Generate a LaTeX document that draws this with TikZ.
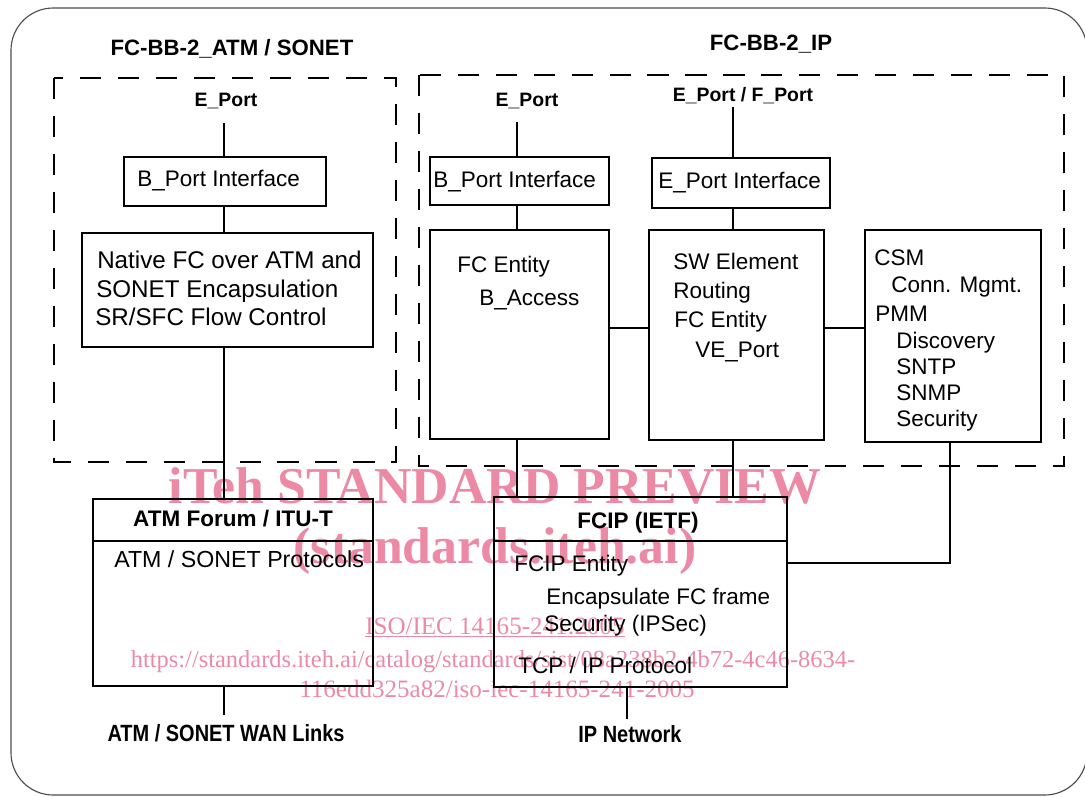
\documentclass[tikz,border=0pt]{standalone}
\usepackage{fontspec}
\setmainfont{Liberation Sans}
\newfontfamily\narrowfont[FakeStretch=0.85]{Liberation Sans}
\newfontfamily\wmfont{Liberation Serif}
\usetikzlibrary{calc}
\definecolor{wmpink}{RGB}{236,138,166}

\begin{document}
\begin{tikzpicture}[x=0.025cm,y=-0.025cm]
    \tikzstyle{edge}=[line width=1.3pt,draw=black]
    \tikzstyle{group}=[line width=1.5pt,draw=black,dash pattern=on 15pt off 12pt]
    \tikzstyle{frame}=[line width=0.8pt,draw=black!70,rounded corners=30pt]
    \tikzstyle{box}=[rectangle,draw=black,line width=1.3pt,inner sep=0pt]
    \tikzstyle{txt}=[inner sep=0pt,anchor=base west,font=\fontsize{16}{19}\selectfont]
    \tikzstyle{bigtxt}=[txt,font=\fontsize{17.2}{20}\selectfont]
    \tikzstyle{head}=[inner sep=0pt,anchor=base,font=\fontsize{16}{19}\selectfont\bfseries]
    \tikzstyle{title}=[head,font=\fontsize{15.8}{18}\selectfont\bfseries]
    \tikzstyle{port}=[head,font=\fontsize{13.8}{16}\selectfont\bfseries]
    \tikzstyle{link}=[head,font=\fontsize{16.7}{19}\selectfont\narrowfont\bfseries]
    \tikzstyle{wmark}=[inner sep=0pt,anchor=base,text=wmpink,font=\wmfont\fontsize{17.8}{20}\selectfont]
    \tikzstyle{wmarkurl}=[wmark,font=\wmfont\fontsize{17.4}{20}\selectfont]
    \tikzstyle{wmarkbig}=[wmark,font=\wmfont\fontsize{36.8}{40}\selectfont\bfseries]

    \useasboundingbox (0,0) rectangle (1085,796);
    \draw[frame] (11,8) rectangle (1087,795);

    {
      \node[wmarkbig] (wm1) at (495,503) {iTeh STANDARD PREVIEW};
      \node[wmarkbig] (wm2) at (495,563) {(standards.iteh.ai)};
      \node[wmark] (wm3) at (495,634) {\underline{ISO/IEC 14165-241:2005}};
      \node[wmarkurl] (wm4) at (493,667) {https://standards.iteh.ai/catalog/standards/sist/08a238b2-4b72-4c46-8634-};
      \node[wmark] (wm5) at (497,697) {116edd325a82/iso-iec-14165-241-2005};
    }

    \draw[group] (54,78) rectangle (396,462);
    \draw[group] (419,75) rectangle (1064,466);

    {
      \node[box,minimum width=5.05cm,minimum height=1.225cm] (bportA) at (225,181.5) {};
      \node[box,minimum width=7.275cm,minimum height=2.85cm] (nativeA) at (227.5,290) {};
      \node[box,minimum width=7.0cm,minimum height=1.05cm] (atmhead) at (233,520) {};
      \node[box,minimum width=7.0cm,minimum height=3.625cm] (atmbody) at (233,613.5) {};

      \node[box,minimum width=4.475cm,minimum height=1.2cm] (bportB) at (519.5,181) {};
      \node[box,minimum width=4.475cm,minimum height=5.225cm] (fcent) at (519.5,334.5) {};
      \node[box,minimum width=4.45cm,minimum height=1.25cm] (eportif) at (741,183) {};
      \node[box,minimum width=4.375cm,minimum height=5.25cm] (swel) at (736.5,335) {};
      \node[box,minimum width=4.4cm,minimum height=5.3cm] (csm) at (953,336) {};
      \node[box,minimum width=7.325cm,minimum height=1.1cm] (fciphead) at (640.5,519) {};
      \node[box,minimum width=7.325cm,minimum height=3.65cm] (fcipbody) at (640.5,614) {};
    }

    {
      \node[title] (ttlA) at (232,55) {FC-BB-2\_ATM / SONET};
      \node[title] (ttlB) at (771,50) {FC-BB-2\_IP};

      \node[port] (eportA) at (226,106) {E\_Port};
      \node[port] (eportB) at (527,106) {E\_Port};
      \node[port] (eportC) at (743,101) {E\_Port / F\_Port};

      \node[txt] (tbportA) at (137,186) {B\_Port Interface};
      \node[txt] (tbportB) at (433,187) {B\_Port Interface};
      \node[txt] (teportif) at (658,188) {E\_Port Interface};

      \node[bigtxt] (tnat1) at (97,268) {Native FC over ATM and};
      \node[bigtxt] (tnat2) at (96,297) {SONET Encapsulation};
      \node[bigtxt] (tnat3) at (95,325) {SR/SFC Flow Control};

      \node[txt] (tfc1) at (457,272) {FC Entity};
      \node[txt] (tfc2) at (479,305) {B\_Access};

      \node[txt] (tsw1) at (673,269) {SW Element};
      \node[txt] (tsw2) at (673,298) {Routing};
      \node[txt] (tsw3) at (674,327) {FC Entity};
      \node[txt] (tsw4) at (695,357) {VE\_Port};

      \node[txt] (tcsm1) at (874,265) {CSM};
      \node[txt] (tcsm2) at (891,292) {Conn. Mgmt.};
      \node[txt] (tcsm3) at (875,321) {PMM};
      \node[txt] (tcsm4) at (896,348) {Discovery};
      \node[txt] (tcsm5) at (896,374) {SNTP};
      \node[txt] (tcsm6) at (896,400) {SNMP};
      \node[txt] (tcsm7) at (896,426) {Security};

      \node[head] (tatmhead) at (233,526) {ATM Forum / ITU-T};
      \node[txt,font=\fontsize{16.5}{19}\selectfont] (tatmbody) at (114,567) {ATM / SONET Protocols};
      \node[link] (twan) at (226,741) {ATM / SONET WAN Links};

      \node[head] (tfciphead) at (638,528) {FCIP (IETF)};
      \node[txt] (tfcip1) at (514,571) {FCIP Entity};
      \node[txt] (tfcip2) at (546,604) {Encapsulate FC frame};
      \node[txt] (tfcip3) at (544,631) {Security (IPSec)};
      \node[txt] (tfcip4) at (518,673) {TCP / IP Protocol};
      \node[link] (tip) at (630,742) {IP Network};
    }

    {
      \coordinate (eportAend) at (224,123);
      \coordinate (wanend) at (224,715);
      \coordinate (eportBend) at (517,122);
      \coordinate (eportCend) at (733,107);
      \coordinate (ipend) at (627,719);
      \coordinate (csmtap) at (950,563);
      \coordinate (linkrow) at (640,328);
    }

    {
      \draw[edge] (eportAend) -- (eportAend |- bportA.north);
      \draw[edge] (eportAend |- bportA.south) -- (eportAend |- nativeA.north);
      \draw[edge] (eportAend |- nativeA.south) -- (eportAend |- atmhead.north);
      \draw[edge] (wanend |- atmbody.south) -- (wanend);

      \draw[edge] (eportBend) -- (eportBend |- bportB.north);
      \draw[edge] (eportBend |- bportB.south) -- (eportBend |- fcent.north);
      \draw[edge] (eportBend |- fcent.south) -- (eportBend |- fciphead.north);

      \draw[edge] (eportCend) -- (eportCend |- eportif.north);
      \draw[edge] (eportCend |- eportif.south) -- (eportCend |- swel.north);
      \draw[edge] (eportCend |- swel.south) -- (eportCend |- fciphead.north);

      \draw[edge] (fcent.east |- linkrow) -- (swel.west |- linkrow);
      \draw[edge] (swel.east |- linkrow) -- (csm.west |- linkrow);
      \draw[edge] (csmtap |- csm.south) -- (csmtap) -- (csmtap -| fcipbody.east);
      \draw[edge] (ipend |- fcipbody.south) -- (ipend);
    }
\end{tikzpicture}
\end{document}
